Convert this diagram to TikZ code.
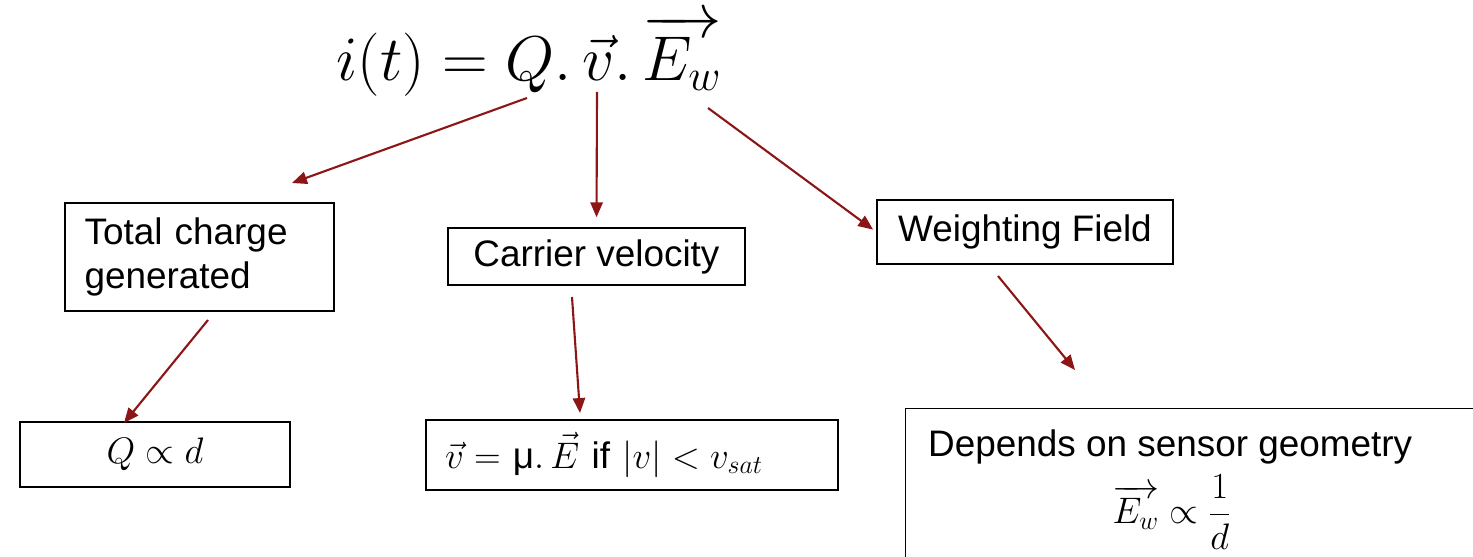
\RequirePackage{fix-cm}
\documentclass[tikz,border=0pt]{standalone}
\usepackage{amsmath}
\usepackage{fontspec}
\setmainfont{Liberation Sans}
\usetikzlibrary{arrows.meta}
\definecolor{arrowred}{RGB}{140,21,21}
\tikzset{
	box/.style = {draw, line width = 0.8pt, inner sep = 0pt, font = \fontsize{21}{25}\selectfont},
	link/.style = {-{Triangle[length = 8.5pt, width = 7pt]}, draw = arrowred, line width = 1.2pt},
}
\begin{document}
\begin{tikzpicture} [x = 0.02cm, y = -0.02cm]
	\clip (0,0) rectangle (1473,557);
	% the current
	\node [anchor = base, font = \fontsize{36}{43}\selectfont] (eq) at (529,81) {$i(t) = Q.\,\vec{v}.\,\overrightarrow{E_w}$};
	% first row
	\node [box, minimum width = 5.38cm, minimum height = 2.16cm, text width = 4.6cm, align = left] (charge) at (199.5,257) {Total charge\\generated};
	\node [box, minimum width = 5.94cm, minimum height = 1.14cm] (velocity) at (596.5,256.5) {Carrier velocity};
	\node [box, minimum width = 5.92cm, minimum height = 1.28cm] (weight) at (1025,232) {Weighting Field};
	% second row
	\node [box, minimum width = 5.4cm, minimum height = 1.3cm] (qd) at (155,454.5) {$Q \propto d$};
	\node [box, minimum width = 8.24cm, minimum height = 1.4cm, text width = 7.48cm, align = left] (vmu) at (632,455) {$\vec{v} =$ μ$.\,\vec{E}$ if $|v| < v_{sat}$};
	\node [box, anchor = north west, minimum width = 12.4cm, minimum height = 4cm] (geom) at (905,408) {};
	\node [anchor = base west, font = \fontsize{21}{25}\selectfont] (geomtext) at (922,456) {Depends on sensor geometry};
	\node [font = \fontsize{21}{25}\selectfont] (geomeq) at (1172,512) {$\overrightarrow{E_w} \propto \dfrac{1}{d}$};
	% arrow ends
	\coordinate (fromq) at (527,98);
	\coordinate (fromv) at (597,92);
	\coordinate (frome) at (708,108);
	\coordinate (toq) at (292,183);
	\coordinate (fromcharge) at (208,320);
	\coordinate (toqd) at (124,423);
	\coordinate (fromvelocity) at (572,297);
	\coordinate (tovmu) at (580,413);
	\coordinate (fromweight) at (998,276);
	\coordinate (togeom) at (1075,370);
	\draw [link] (fromq) -- (toq);
	\draw [link, shorten > = 0.2cm] (fromv) -- (velocity.north);
	\draw [link, shorten > = 0.08cm] (frome) -- (weight.west);
	\draw [link] (fromcharge) -- (toqd);
	\draw [link] (fromvelocity) -- (tovmu);
	\draw [link] (fromweight) -- (togeom);
\end{tikzpicture}
\end{document}
